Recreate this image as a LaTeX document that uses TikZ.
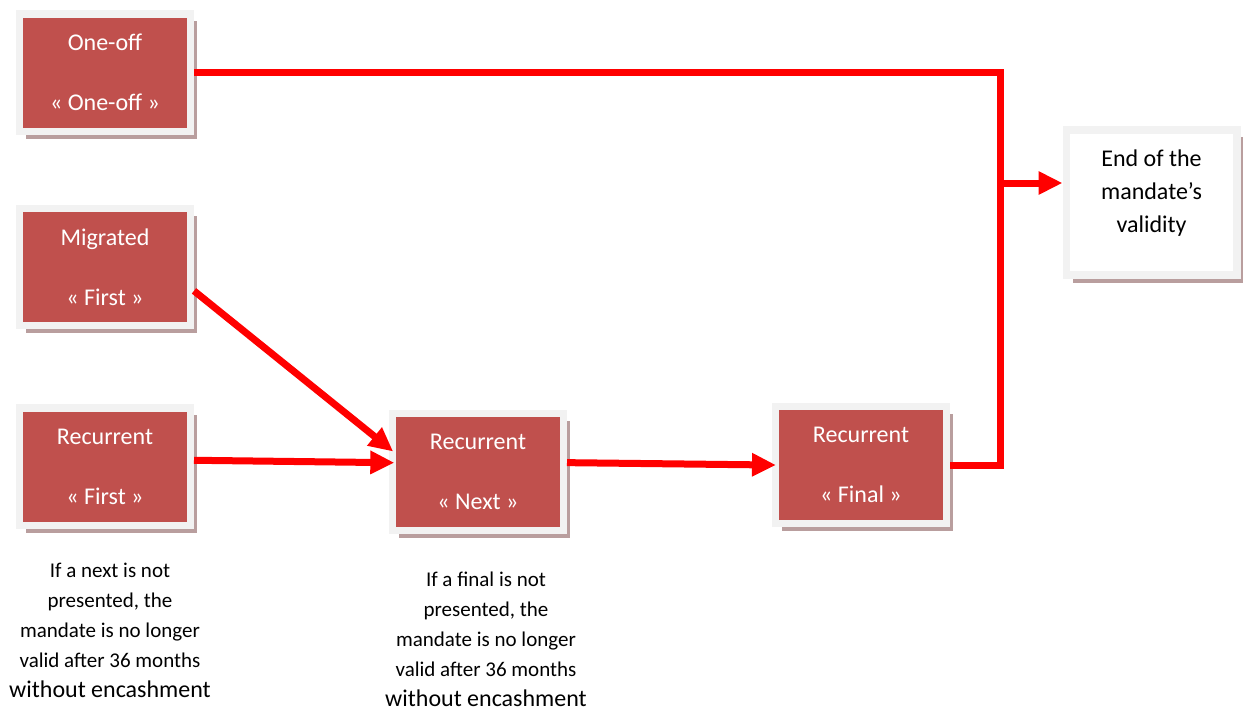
\documentclass[tikz,border=0pt]{standalone}
\usepackage{fontspec}
\setmainfont{Carlito}
\usetikzlibrary{arrows.meta,shadows}
\definecolor{boxred}{HTML}{C0504D}
\definecolor{framegray}{HTML}{F2F2F2}
\definecolor{shadowred}{RGB}{185,158,158}

\begin{document}
\begin{tikzpicture}[x=0.75pt,y=-0.75pt,
        mandate/.style={draw=framegray, line width=5.6pt, fill=boxred, text=white,
            minimum width=127.9pt, minimum height=88.1pt, align=center,
            font=\fontsize{18}{22.5}\selectfont,
            drop shadow={shadow xshift=4.9pt, shadow yshift=-5.6pt, fill=shadowred, opacity=1}},
        note/.style={align=center, font=\fontsize{15.75}{22.5}\selectfont},
        link/.style={draw=red, line width=5.25pt},
        tip/.style={link, -{Triangle[length=18pt,width=16.5pt]}}]
            \useasboundingbox (0,0) rectangle (1246,711);
            \node[mandate](1) at (105,72.5) {One-off\\[22.5pt]« One-off »};
            \node[mandate](2) at (105,267) {Migrated\\[22.5pt]« First »};
            \node[mandate](3) at (105,466.5) {Recurrent\\[22.5pt]« First »};
            \node[mandate](4) at (478,472) {Recurrent\\[22.5pt]« Next »};
            \node[mandate](5) at (861,465) {Recurrent\\[22.5pt]« Final »};
            \node[mandate, fill=white, text=black, minimum height=109pt, text depth=17pt,
                font=\fontsize{18}{25}\selectfont](6) at (1151.5,202.5) {End of the\\mandate’s\\validity};
            \node[note](t3) at (110,630) {If a next is not\\presented, the\\mandate is no longer\\valid after 36 months\\{\fontsize{18}{22.5}\selectfont without encashment}};
            \node[note](t4) at (486,639) {If a final is not\\presented, the\\mandate is no longer\\valid after 36 months\\{\fontsize{18}{22.5}\selectfont without encashment}};
            \coordinate (j) at (1000,183);
            \draw[link] (1.east) -| (j);
            \draw[link] (5.east) -| (j);
            \draw[tip] (j) -- (j -| 6.west);
            \draw[tip, shorten >=-4pt] (2.-15) -- (4.165);
            \draw[tip, shorten >=-4pt] (3.4) -- (4.174);
            \draw[tip, shorten >=-3pt] (4.6) -- (5.west);
\end{tikzpicture}
\end{document}
